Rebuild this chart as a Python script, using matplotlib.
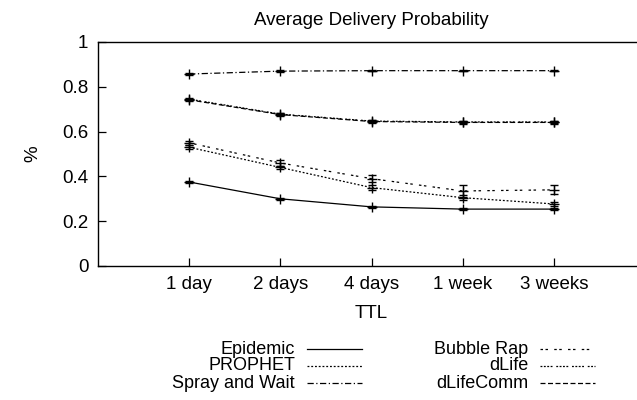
import numpy as np
import matplotlib.pyplot as plt
from matplotlib.lines import Line2D

plt.rcParams['font.family'] = ['Liberation Sans', 'DejaVu Sans']

# data
ttl = ["1 day", "2 days", "4 days", "1 week", "3 weeks"]
epidemic = [0.375, 0.300, 0.264, 0.254, 0.254]
epidemic_err = [0.004, 0.004, 0.004, 0.006, 0.006]
prophet = [0.530, 0.440, 0.350, 0.305, 0.277]
prophet_err = [0.008, 0.008, 0.010, 0.010, 0.008]
spray = [0.857, 0.870, 0.872, 0.872, 0.872]
spray_err = [0.004, 0.003, 0.003, 0.003, 0.003]
bubble = [0.550, 0.460, 0.390, 0.335, 0.340]
bubble_err = [0.010, 0.012, 0.017, 0.026, 0.020]
dlife = [0.745, 0.678, 0.647, 0.643, 0.643]
dlife_err = [0.004, 0.006, 0.006, 0.006, 0.006]
dlifecomm = [0.742, 0.676, 0.645, 0.641, 0.641]
dlifecomm_err = [0.004, 0.006, 0.006, 0.006, 0.006]

series = [
    ("Epidemic", epidemic, epidemic_err, '-'),
    ("PROPHET", prophet, prophet_err, (0, (1.5, 1.5))),
    ("Spray and Wait", spray, spray_err, (0, (5, 2, 1, 2))),
    ("Bubble Rap", bubble, bubble_err, (0, (2, 2, 2, 5))),
    ("dLife", dlife, dlife_err, (0, (1.5, 1.2, 1.5, 1.2, 1.5, 1.2, 1.5, 3))),
    ("dLifeComm", dlifecomm, dlifecomm_err, (0, (4, 2))),
]

fig = plt.figure(figsize=(6.37, 4.0), dpi=100)
W, H = 637, 400
ax = fig.add_axes([98 / W, 1 - 266 / H, (645 - 98) / W, (266 - 42) / H])

x = np.arange(1, len(ttl) + 1)
for name, y, e, ls in series:
    ax.errorbar(x, y, yerr=e, color='black', lw=0.9, ls=ls, marker='+',
                ms=7, mew=1.0, capsize=3, elinewidth=0.9, capthick=0.9)

ax.set_xlim(0, 6)
ax.set_ylim(0, 1)
ax.set_xticks(x)
ax.set_xticklabels(ttl)
ax.set_yticks([0, 0.2, 0.4, 0.6, 0.8, 1])
ax.set_yticklabels(["0", "0.2", "0.4", "0.6", "0.8", "1"])
ax.tick_params(direction='in', length=6, width=0.9, labelsize=13.5, pad=7)
ax.tick_params(axis='y', right=True)
for s in ax.spines.values():
    s.set_linewidth(1.0)
ax.set_title("Average Delivery Probability", fontsize=13.5, pad=12)
ax.set_xlabel("TTL", fontsize=13.5, labelpad=9)
ax.set_ylabel("%", fontsize=13.5, labelpad=15)

# legend drawn gnuplot style: label right aligned, sample to the right
rows = [349, 366, 383]
cols = [(295, 307, 362), (528, 540, 595)]
for i, (name, y, e, ls) in enumerate(series):
    c = cols[i // 3]
    r = rows[i % 3]
    fig.text(c[0] / W, 1 - r / H, name, ha='right', va='center', fontsize=13)
    fig.add_artist(Line2D([c[1] / W, c[2] / W], [1 - r / H, 1 - r / H],
                          color='black', lw=0.9, ls=ls))

fig.savefig("out.png", dpi=100)
